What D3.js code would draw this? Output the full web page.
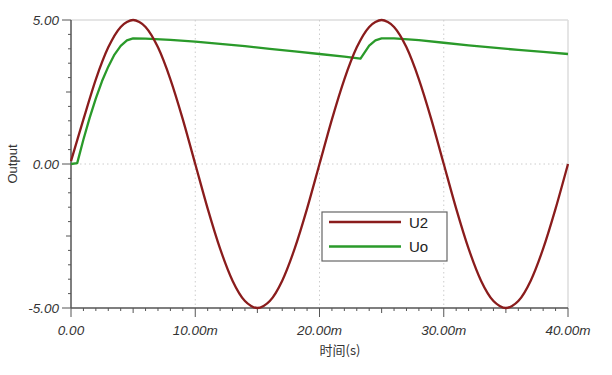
<!DOCTYPE html>
<html>
<head>
<meta charset="utf-8">
<script src="https://cdn.jsdelivr.net/npm/d3@7"></script>
<style>
  body { margin: 0; background: #fff; }
  svg { display: block; }
</style>
</head>
<body>
<svg width="612" height="375"></svg>
<script>
// time in ms, one sample per ms
const u2Time = d3.range(0, 41);
const u2Values = [0.10, 1.55, 2.94, 4.05, 4.76, 5.00, 4.76, 4.05, 2.94, 1.55,
  0.00, -1.55, -2.94, -4.05, -4.76, -5.00, -4.76, -4.05, -2.94, -1.55,
  0.00, 1.55, 2.94, 4.05, 4.76, 5.00, 4.76, 4.05, 2.94, 1.55,
  0.00, -1.55, -2.94, -4.05, -4.76, -5.00, -4.76, -4.05, -2.94, -1.55, 0.00];

const uoTime = [0, 0.5, 1, 1.5, 2, 2.5, 3, 3.5, 4, 4.5, 5, 6, 8, 10, 12, 14, 16, 18, 20, 22, 23.3,
  24, 24.5, 25, 26, 28, 30, 32, 34, 36, 38, 40];
const uoValues = [0, 0.03, 0.85, 1.6, 2.28, 2.88, 3.38, 3.8, 4.1, 4.29, 4.36, 4.35, 4.31, 4.25, 4.17, 4.09, 4.0, 3.91, 3.82, 3.73, 3.66,
  4.11, 4.29, 4.36, 4.36, 4.3, 4.21, 4.12, 4.04, 3.96, 3.89, 3.82];

const xTickLabels = ["0.00", "10.00m", "20.00m", "30.00m", "40.00m"];
const yTickLabels = ["-5.00", "0.00", "5.00"];

const svg = d3.select("svg");
const margin = {left: 71, right: 44, top: 20, bottom: 67};
const W = 612, H = 375;

const x = d3.scaleLinear().domain([0, 40]).range([margin.left, W - margin.right]);
const y = d3.scaleLinear().domain([-5, 5]).range([H - margin.bottom, margin.top]);

// frame top/right
svg.append("line").attr("x1", x(0)).attr("x2", x(40)).attr("y1", y(5)).attr("y2", y(5))
  .attr("stroke", "#ddd").attr("stroke-width", 1.5);
svg.append("line").attr("x1", x(40)).attr("x2", x(40)).attr("y1", y(5)).attr("y2", y(-5))
  .attr("stroke", "#ddd").attr("stroke-width", 1.5);

// dotted grid
svg.append("g").selectAll("line").data([10, 20, 30]).join("line")
  .attr("x1", d => x(d)).attr("x2", d => x(d))
  .attr("y1", y(5)).attr("y2", y(-5))
  .attr("stroke", "#ccc").attr("stroke-dasharray", "1.5,3");
svg.append("line").attr("x1", x(0)).attr("x2", x(40)).attr("y1", y(0)).attr("y2", y(0))
  .attr("stroke", "#ccc").attr("stroke-dasharray", "1.5,3");

// ticks
const axisColor = "#555";
const xTicks = d3.range(0, 41);
svg.append("g").selectAll("line").data(xTicks).join("line")
  .attr("x1", d => x(d)).attr("x2", d => x(d))
  .attr("y1", y(-5))
  .attr("y2", d => y(-5) + (d % 10 === 0 ? 9 : d % 5 === 0 ? 5 : 3))
  .attr("stroke", axisColor).attr("stroke-width", 1);
const yTicks = d3.range(-10, 11).map(d => d / 2);
svg.append("g").selectAll("line").data(yTicks).join("line")
  .attr("y1", d => y(d)).attr("y2", d => y(d))
  .attr("x1", x(0))
  .attr("x2", d => x(0) - (d % 5 === 0 ? 9 : d % 2.5 === 0 ? 5 : 3))
  .attr("stroke", axisColor).attr("stroke-width", 1);

// axis lines
svg.append("line").attr("x1", x(0)).attr("x2", x(40)).attr("y1", y(-5)).attr("y2", y(-5))
  .attr("stroke", axisColor).attr("stroke-width", 1.5);
svg.append("line").attr("x1", x(0)).attr("x2", x(0)).attr("y1", y(5)).attr("y2", y(-5))
  .attr("stroke", axisColor).attr("stroke-width", 1.5);

// tick labels
const labelFont = "'Liberation Sans', Arial, sans-serif";
svg.append("g").selectAll("text").data(xTickLabels).join("text")
  .attr("x", (d, i) => x(i * 10)).attr("y", y(-5) + 27)
  .attr("text-anchor", "middle")
  .attr("font-family", labelFont).attr("font-style", "italic").attr("font-size", 13.5)
  .attr("fill", "#333").text(d => d);
svg.append("g").selectAll("text").data(yTickLabels).join("text")
  .attr("x", x(0) - 12).attr("y", (d, i) => y(-5 + i * 5) + 5)
  .attr("text-anchor", "end")
  .attr("font-family", labelFont).attr("font-style", "italic").attr("font-size", 13.5)
  .attr("fill", "#333").text(d => d);

// axis titles
svg.append("text")
  .attr("transform", `translate(17,${y(0)}) rotate(-90)`)
  .attr("text-anchor", "middle")
  .attr("font-family", labelFont).attr("font-size", 13).attr("fill", "#333")
  .text("Output");
svg.append("text")
  .attr("x", 340).attr("y", 355)
  .attr("text-anchor", "middle")
  .attr("font-family", "'Noto Sans CJK SC', sans-serif").attr("font-size", 13).attr("fill", "#333")
  .text("时间(s)");

// series
const red = "#8a1c1c", green = "#2a9a2a";
const clip = svg.append("clipPath").attr("id", "plot").append("rect")
  .attr("x", x(0)).attr("y", y(5) - 2).attr("width", x(40) - x(0) + 2).attr("height", y(-5) - y(5) + 4);

const lineU2 = d3.line().x((d, i) => x(u2Time[i])).y(d => y(d)).curve(d3.curveCardinal.tension(0.2));
const lineUo = d3.line().x((d, i) => x(uoTime[i])).y(d => y(d)).curve(d3.curveLinear);

svg.append("path").datum(uoValues).attr("d", lineUo)
  .attr("fill", "none").attr("stroke", green).attr("stroke-width", 2.3)
  .attr("stroke-linejoin", "round");
svg.append("path").datum(u2Values).attr("d", lineU2)
  .attr("fill", "none").attr("stroke", red).attr("stroke-width", 2.3)
  .attr("stroke-linejoin", "round");

// legend
const lg = svg.append("g").attr("transform", "translate(322,212)");
lg.append("rect").attr("width", 125).attr("height", 49)
  .attr("fill", "#fff").attr("stroke", "#666").attr("stroke-width", 1.2);
const legendItems = [{name: "U2", color: red}, {name: "Uo", color: green}];
legendItems.forEach((d, i) => {
  lg.append("line").attr("x1", 7).attr("x2", 79).attr("y1", 10 + i * 24.5).attr("y2", 10 + i * 24.5)
    .attr("stroke", d.color).attr("stroke-width", 2.3);
  lg.append("text").attr("x", 87).attr("y", 15.5 + i * 24.5)
    .attr("font-family", labelFont).attr("font-size", 15).attr("fill", "#222")
    .text(d.name);
});
</script>
</body>
</html>
